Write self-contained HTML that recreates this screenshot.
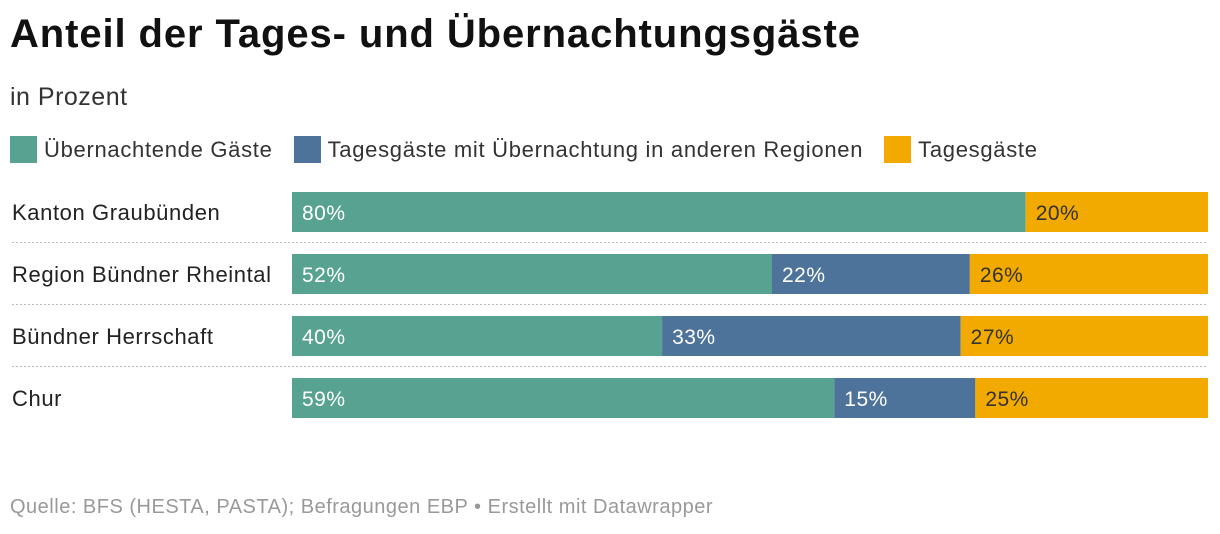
<!DOCTYPE html>
<html><head><meta charset="utf-8">
<style>
body{margin:0;width:1220px;height:534px;background:#fff;font-family:"Liberation Sans",sans-serif;position:relative;overflow:hidden;color:#222}
#title{position:absolute;left:10px;top:12px;font-size:40px;font-weight:bold;margin:0;letter-spacing:0.9px;color:#111}
#sub{position:absolute;left:10px;top:83px;font-size:25px;color:#333;letter-spacing:0.5px}
#legend{position:absolute;left:10px;top:136px;font-size:22px;display:flex;color:#333;letter-spacing:0.7px}
.li{display:flex;align-items:center;margin-right:21px}
.sw{width:27px;height:27px;margin-right:7px}
#foot{position:absolute;left:10px;top:496px;font-size:20px;color:#999;letter-spacing:0.5px}
</style></head><body>
<div id="title">Anteil der Tages- und Übernachtungsgäste</div>
<div id="sub">in Prozent</div>
<div id="legend">
<div class="li"><div class="sw" style="background:#58a291"></div>Übernachtende Gäste</div>
<div class="li"><div class="sw" style="background:#4e739a"></div>Tagesgäste mit Übernachtung in anderen Regionen</div>
<div class="li"><div class="sw" style="background:#f2a900"></div>Tagesgäste</div>
</div>
<svg id="chart" width="1220" height="534" style="position:absolute;left:0;top:0"></svg>
<div id="foot">Quelle: BFS (HESTA, PASTA); Befragungen EBP • Erstellt mit Datawrapper</div>
<script>
const categories=["Kanton Graubünden","Region Bündner Rheintal","Bündner Herrschaft","Chur"];
const uebernachtend=[80.1,52.4,40.4,59.2];
const tagesMitUeb=[0,21.6,32.6,15.4];
const tages=[19.9,26,27,25.4];
const series=[{v:uebernachtend,c:"#58a291",t:"#fff",n:"green"},{v:tagesMitUeb,c:"#4e739a",t:"#fff",n:"blue"},{v:tages,c:"#f2a900",t:"#333",n:"orange"}];
const svg=document.getElementById('chart');
const NS="http://www.w3.org/2000/svg";
const x0=292,x1=1208;
const xs=v=>x0+(x1-x0)*v/100;
const rowY=i=>192+i*62;
categories.forEach((cat,i)=>{
  const y=rowY(i);
  const t=document.createElementNS(NS,'text');
  t.setAttribute('x',12);t.setAttribute('y',y+28);t.setAttribute('font-size',22);t.setAttribute('fill','#222');t.setAttribute('letter-spacing','0.6');
  t.textContent=cat;
  
  
  svg.appendChild(t);
  let acc=0;
  series.forEach(s=>{
    const v=s.v[i];
    if(v>0){
      const r=document.createElementNS(NS,'rect');
      r.setAttribute('x',xs(acc));r.setAttribute('y',y);r.setAttribute('width',xs(acc+v)-xs(acc));r.setAttribute('height',40);r.setAttribute('fill',s.c);
      
      
      svg.appendChild(r);
      const l=document.createElementNS(NS,'text');
      l.setAttribute('x',xs(acc)+10);l.setAttribute('y',y+28);l.setAttribute('font-size',21);l.setAttribute('fill',s.t);l.setAttribute('letter-spacing','0.5');
      l.textContent=Math.round(v)+'%';
      
      
      svg.appendChild(l);
    }
    acc+=v;
  });
  if(i<categories.length-1){
    const ln=document.createElementNS(NS,'line');
    ln.setAttribute('x1',12);ln.setAttribute('x2',1208);ln.setAttribute('y1',y+50.5);ln.setAttribute('y2',y+50.5);
    ln.setAttribute('stroke','#bbb');ln.setAttribute('stroke-dasharray','2,2');
    
    
    svg.appendChild(ln);
  }
});
</script>
</body></html>
